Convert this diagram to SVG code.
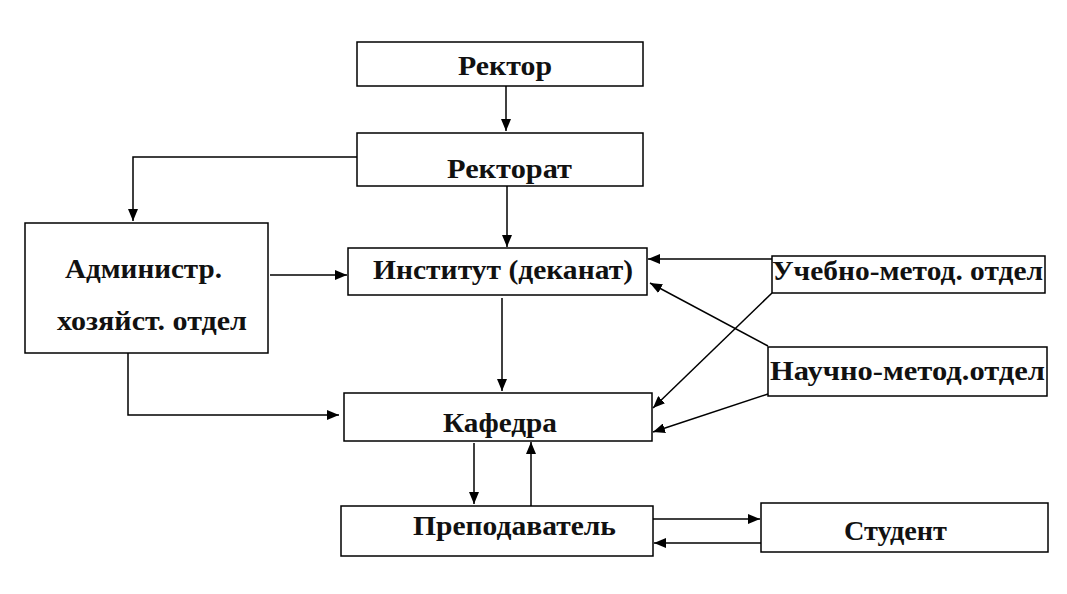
<svg xmlns="http://www.w3.org/2000/svg" width="1067" height="594" viewBox="0 0 1067 594">
<style>
.box{fill:#fff;stroke:#000;stroke-width:1.5}
.lbl{font-family:"Liberation Serif","Times New Roman",serif;font-weight:bold;font-size:28px;fill:#111}
.con{fill:none;stroke:#000;stroke-width:1.5}
</style>
<defs>
<marker id="ah" viewBox="0 0 12 10" refX="12" refY="5" markerWidth="12" markerHeight="10" markerUnits="userSpaceOnUse" orient="auto">
<path d="M0,0 L12,5 L0,10 Z" fill="#000"/>
</marker>
</defs>
<rect width="1067" height="594" fill="#fff"/>
<g id="rektor"><rect class="box" x="357" y="42" width="286" height="44"/><text class="lbl" x="458" y="75" textLength="94" lengthAdjust="spacingAndGlyphs">Ректор</text></g>
<g id="rektorat"><rect class="box" x="357" y="133" width="286" height="53"/><text class="lbl" x="447" y="178" textLength="125" lengthAdjust="spacingAndGlyphs">Ректорат</text></g>
<g id="admin"><rect class="box" x="25" y="223" width="243" height="130"/><text class="lbl" x="65" y="278" textLength="157" lengthAdjust="spacingAndGlyphs">Администр.</text><text class="lbl" x="57" y="330" textLength="190" lengthAdjust="spacingAndGlyphs">хозяйст. отдел</text></g>
<g id="institut"><rect class="box" x="348" y="248" width="299" height="47"/><text class="lbl" x="373" y="279" textLength="260" lengthAdjust="spacingAndGlyphs">Институт (деканат)</text></g>
<g id="uchebno"><rect class="box" x="772" y="256" width="273" height="37"/><text class="lbl" x="772" y="280" textLength="271" lengthAdjust="spacingAndGlyphs">Учебно-метод. отдел</text></g>
<g id="nauchno"><rect class="box" x="768" y="347" width="279" height="49"/><text class="lbl" x="770" y="380" textLength="275" lengthAdjust="spacingAndGlyphs">Научно-метод.отдел</text></g>
<g id="kafedra"><rect class="box" x="344" y="393" width="308" height="48"/><text class="lbl" x="443" y="432" textLength="114" lengthAdjust="spacingAndGlyphs">Кафедра</text></g>
<g id="prepod"><rect class="box" x="341" y="506" width="312" height="50"/><text class="lbl" x="413" y="535" textLength="203" lengthAdjust="spacingAndGlyphs">Преподаватель</text></g>
<g id="student"><rect class="box" x="761" y="503" width="287" height="49"/><text class="lbl" x="844" y="540" textLength="103" lengthAdjust="spacingAndGlyphs">Студент</text></g>
<g id="connectors" marker-end="url(#ah)">
<path class="con" d="M506,86 V131" marker-end="url(#ah)"/>
<path class="con" d="M357,157 H133 V221" marker-end="url(#ah)"/>
<path class="con" d="M507,186 V247" marker-end="url(#ah)"/>
<path class="con" d="M270,275 H347" marker-end="url(#ah)"/>
<path class="con" d="M128,353 V415 H339" marker-end="url(#ah)"/>
<path class="con" d="M502,298 V391" marker-end="url(#ah)"/>
<path class="con" d="M772,259 H648" marker-end="url(#ah)"/>
<path class="con" d="M768,346 L650,283" marker-end="url(#ah)"/>
<path class="con" d="M772,293 L653,408" marker-end="url(#ah)"/>
<path class="con" d="M768,394 L653,432" marker-end="url(#ah)"/>
<path class="con" d="M474,443 V504" marker-end="url(#ah)"/>
<path class="con" d="M531,506 V442" marker-end="url(#ah)"/>
<path class="con" d="M653,519 H760" marker-end="url(#ah)"/>
<path class="con" d="M761,543 H654" marker-end="url(#ah)"/>
</g>
</svg>
